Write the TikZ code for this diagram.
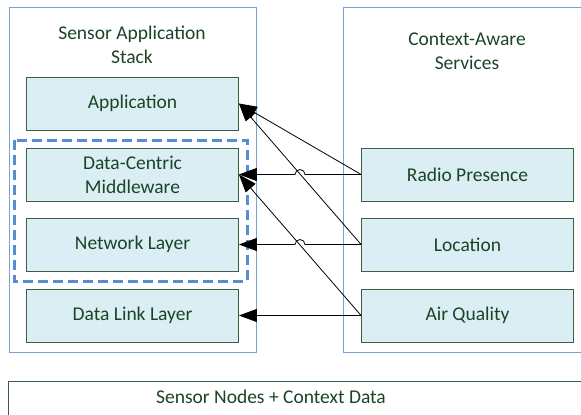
\documentclass[tikz,border=0pt]{standalone}
\usepackage{fontspec}
\setmainfont{Carlito}
\usepackage{tikz}
\usetikzlibrary{arrows.meta,calc}
\definecolor{layerfill}{HTML}{DAEEF3}
\definecolor{layerline}{HTML}{3A5F45}
\definecolor{labeltext}{HTML}{1B4427}
\definecolor{panelline}{HTML}{7BA0D6}
\definecolor{groupline}{HTML}{558ED5}
\tikzset{
  layer/.style={draw=layerline, fill=layerfill, line width=0.8pt, minimum width=212pt, minimum height=53pt, inner sep=0pt, text=labeltext, align=center},
  panel/.style={draw=panelline, line width=0.8pt},
  heading/.style={text=labeltext, align=center},
  feed/.style={-{Triangle[length=18pt,width=13pt]}, line width=0.8pt}
}

\begin{document}
\begin{tikzpicture}[x=1pt,y=-1pt,font=\fontsize{19.5}{24}\selectfont]
\useasboundingbox (0,0) rectangle (581,415);
% panels
\draw [panel] (9,7) rectangle (256,352);
\draw [panel] (343,7) rectangle (600,352);
\draw [draw=layerline, line width=0.8pt] (8,381) rectangle (600,440);
\node [heading] (stacktitle) at (132,45) {Sensor Application\\Stack};
\node [heading] (servicetitle) at (467,51) {Context-Aware\\Services};
\node [heading] (nodes) at (271,397) {Sensor Nodes + Context Data};
% middleware group
\draw [groupline, line width=3pt, dash pattern=on 10pt off 5pt] (14,140) rectangle (247,281);
% stack
\node [layer] (app) at (132.5,103.5) {Application};
\node [layer] (dcm) at (132.5,174.5) {Data-Centric\\Middleware};
\node [layer] (net) at (132.5,244.5) {Network Layer};
\node [layer] (dll) at (132.5,315.5) {Data Link Layer};
% services
\node [layer] (radio) at (467.5,174.5) {Radio Presence};
\node [layer] (loc) at (467.5,244.5) {Location};
\node [layer] (air) at (467.5,315.5) {Air Quality};
% links
\coordinate (cross1) at ($(loc.west)!.5!(app.east)$);
\coordinate (cross2) at ($(air.west)!.5!(dcm.east)$);
\draw [feed] (radio.west) -- (app.east);
\draw [feed] (loc.west) -- (app.east);
\draw [feed] (air.west) -- (dcm.east);
\draw [feed] (radio.west) -- ([xshift=5pt]cross1 |- radio.west) arc [start angle=0, end angle=180, radius=5pt] -- (dcm.east);
\draw [feed] (loc.west) -- ([xshift=5pt]cross2 |- loc.west) arc [start angle=0, end angle=180, radius=5pt] -- (net.east);
\draw [feed] (air.west) -- (dll.east);
\end{tikzpicture}
\end{document}
